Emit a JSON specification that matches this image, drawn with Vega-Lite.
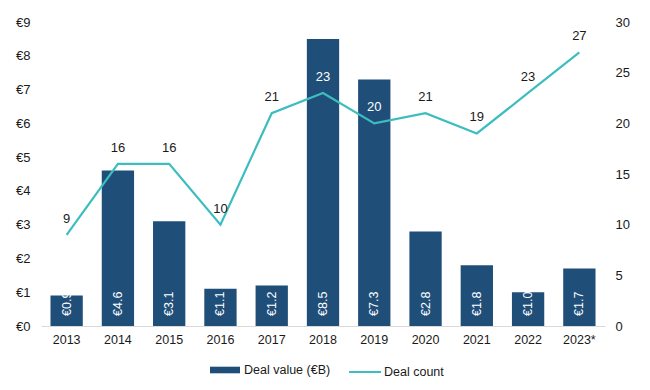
{
  "$schema": "https://vega.github.io/schema/vega-lite/v6.json",
  "width": 564,
  "height": 304,
  "autosize": {"type": "none"},
  "padding": {"left": 41, "top": 22, "right": 45, "bottom": 64},
  "background": "white",
  "config": {
    "view": {"stroke": null},
    "font": "Liberation Sans",
    "axis": {"labelFont": "Liberation Sans", "labelFontSize": 12.5, "labelColor": "#1a1a1a", "grid": false, "title": null, "labelOverlap": false},
    "legend": {"padding": 0}
  },
  "data": {"values": [
    {"year": "2013", "value": 0.9, "count": 9},
    {"year": "2014", "value": 4.6, "count": 16},
    {"year": "2015", "value": 3.1, "count": 16},
    {"year": "2016", "value": 1.1, "count": 10},
    {"year": "2017", "value": 1.2, "count": 21},
    {"year": "2018", "value": 8.5, "count": 23},
    {"year": "2019", "value": 7.3, "count": 20},
    {"year": "2020", "value": 2.8, "count": 21},
    {"year": "2021", "value": 1.8, "count": 19},
    {"year": "2022", "value": 1.0, "count": 23},
    {"year": "2023*", "value": 1.7, "count": 27}
  ]},
  "encoding": {
    "x": {"field": "year", "type": "nominal", "sort": null,
      "scale": {"paddingInner": 0.37, "paddingOuter": 0.185},
      "axis": {"labelAngle": 0, "ticks": false, "domainColor": "#d9d9d9", "domainWidth": 1, "labelPadding": 7}}
  },
  "layer": [
    {
      "layer": [
        {
          "mark": {"type": "bar", "color": "#1f4e79"},
          "encoding": {
            "y": {"field": "value", "type": "quantitative", "scale": {"domain": [0, 9], "nice": false},
              "axis": {"orient": "left", "values": [0,1,2,3,4,5,6,7,8,9], "labelOverlap": false, "labelExpr": "'€' + datum.label", "domain": false, "ticks": false, "labelPadding": 11, "labelFontSize": 13}},
            "color": {"datum": "Deal value (€B)", "type": "nominal",
              "scale": {"domain": ["Deal value (€B)"], "range": ["#1f4e79"]},
              "legend": {"orient": "none", "legendX": 169, "legendY": 333, "title": null, "symbolType": "M-1,-0.22L1,-0.22L1,0.22L-1,0.22Z", "symbolSize": 900, "labelFontSize": 12.5, "labelFont": "Liberation Sans", "labelColor": "#1a1a1a", "symbolStrokeWidth": 0, "labelOffset": 4}}
          }
        },
        {
          "transform": [{"calculate": "'€' + format(datum.value, '.1f')", "as": "vlabel"}],
          "mark": {"type": "text", "angle": -90, "align": "left", "baseline": "middle", "dx": 10, "color": "white", "fontSize": 12.5},
          "encoding": {
            "y": {"datum": 0, "type": "quantitative", "scale": {"domain": [0, 9], "nice": false},
              "axis": {"orient": "left", "values": [0,1,2,3,4,5,6,7,8,9], "labelOverlap": false, "labelExpr": "'€' + datum.label", "domain": false, "ticks": false, "labelPadding": 11, "labelFontSize": 13}},
            "text": {"field": "vlabel"}
          }
        }
      ]
    },
    {
      "layer": [
        {
          "mark": {"type": "line", "color": "#3dbdbf", "strokeWidth": 2.2},
          "encoding": {
            "y": {"field": "count", "type": "quantitative", "scale": {"domain": [0, 30]},
              "axis": {"orient": "right", "values": [0,5,10,15,20,25,30], "labelOverlap": false, "domain": false, "ticks": false, "labelPadding": 10, "labelFontSize": 13}},
            "color": {"datum": "Deal count", "type": "nominal",
              "scale": {"domain": ["Deal count"], "range": ["#3dbdbf"]},
              "legend": {"orient": "none", "legendX": 307, "legendY": 333, "title": null, "symbolType": "stroke", "symbolSize": 1024, "symbolStrokeWidth": 2, "labelFontSize": 12.5, "labelFont": "Liberation Sans", "labelColor": "#1a1a1a", "labelOffset": 2}}
          }
        },
        {
          "mark": {"type": "text", "baseline": "bottom", "dy": -9, "fontSize": 13},
          "encoding": {
            "y": {"field": "count", "type": "quantitative", "scale": {"domain": [0, 30]},
              "axis": {"orient": "right", "values": [0,5,10,15,20,25,30], "labelOverlap": false, "domain": false, "ticks": false, "labelPadding": 10, "labelFontSize": 13}},
            "text": {"field": "count"},
            "color": {"condition": {"test": "datum.value > datum.count * 0.3 + 0.5", "value": "white"}, "value": "#1a1a1a"}
          }
        }
      ]
    }
  ],
  "resolve": {"scale": {"y": "independent", "color": "independent"}}
}
